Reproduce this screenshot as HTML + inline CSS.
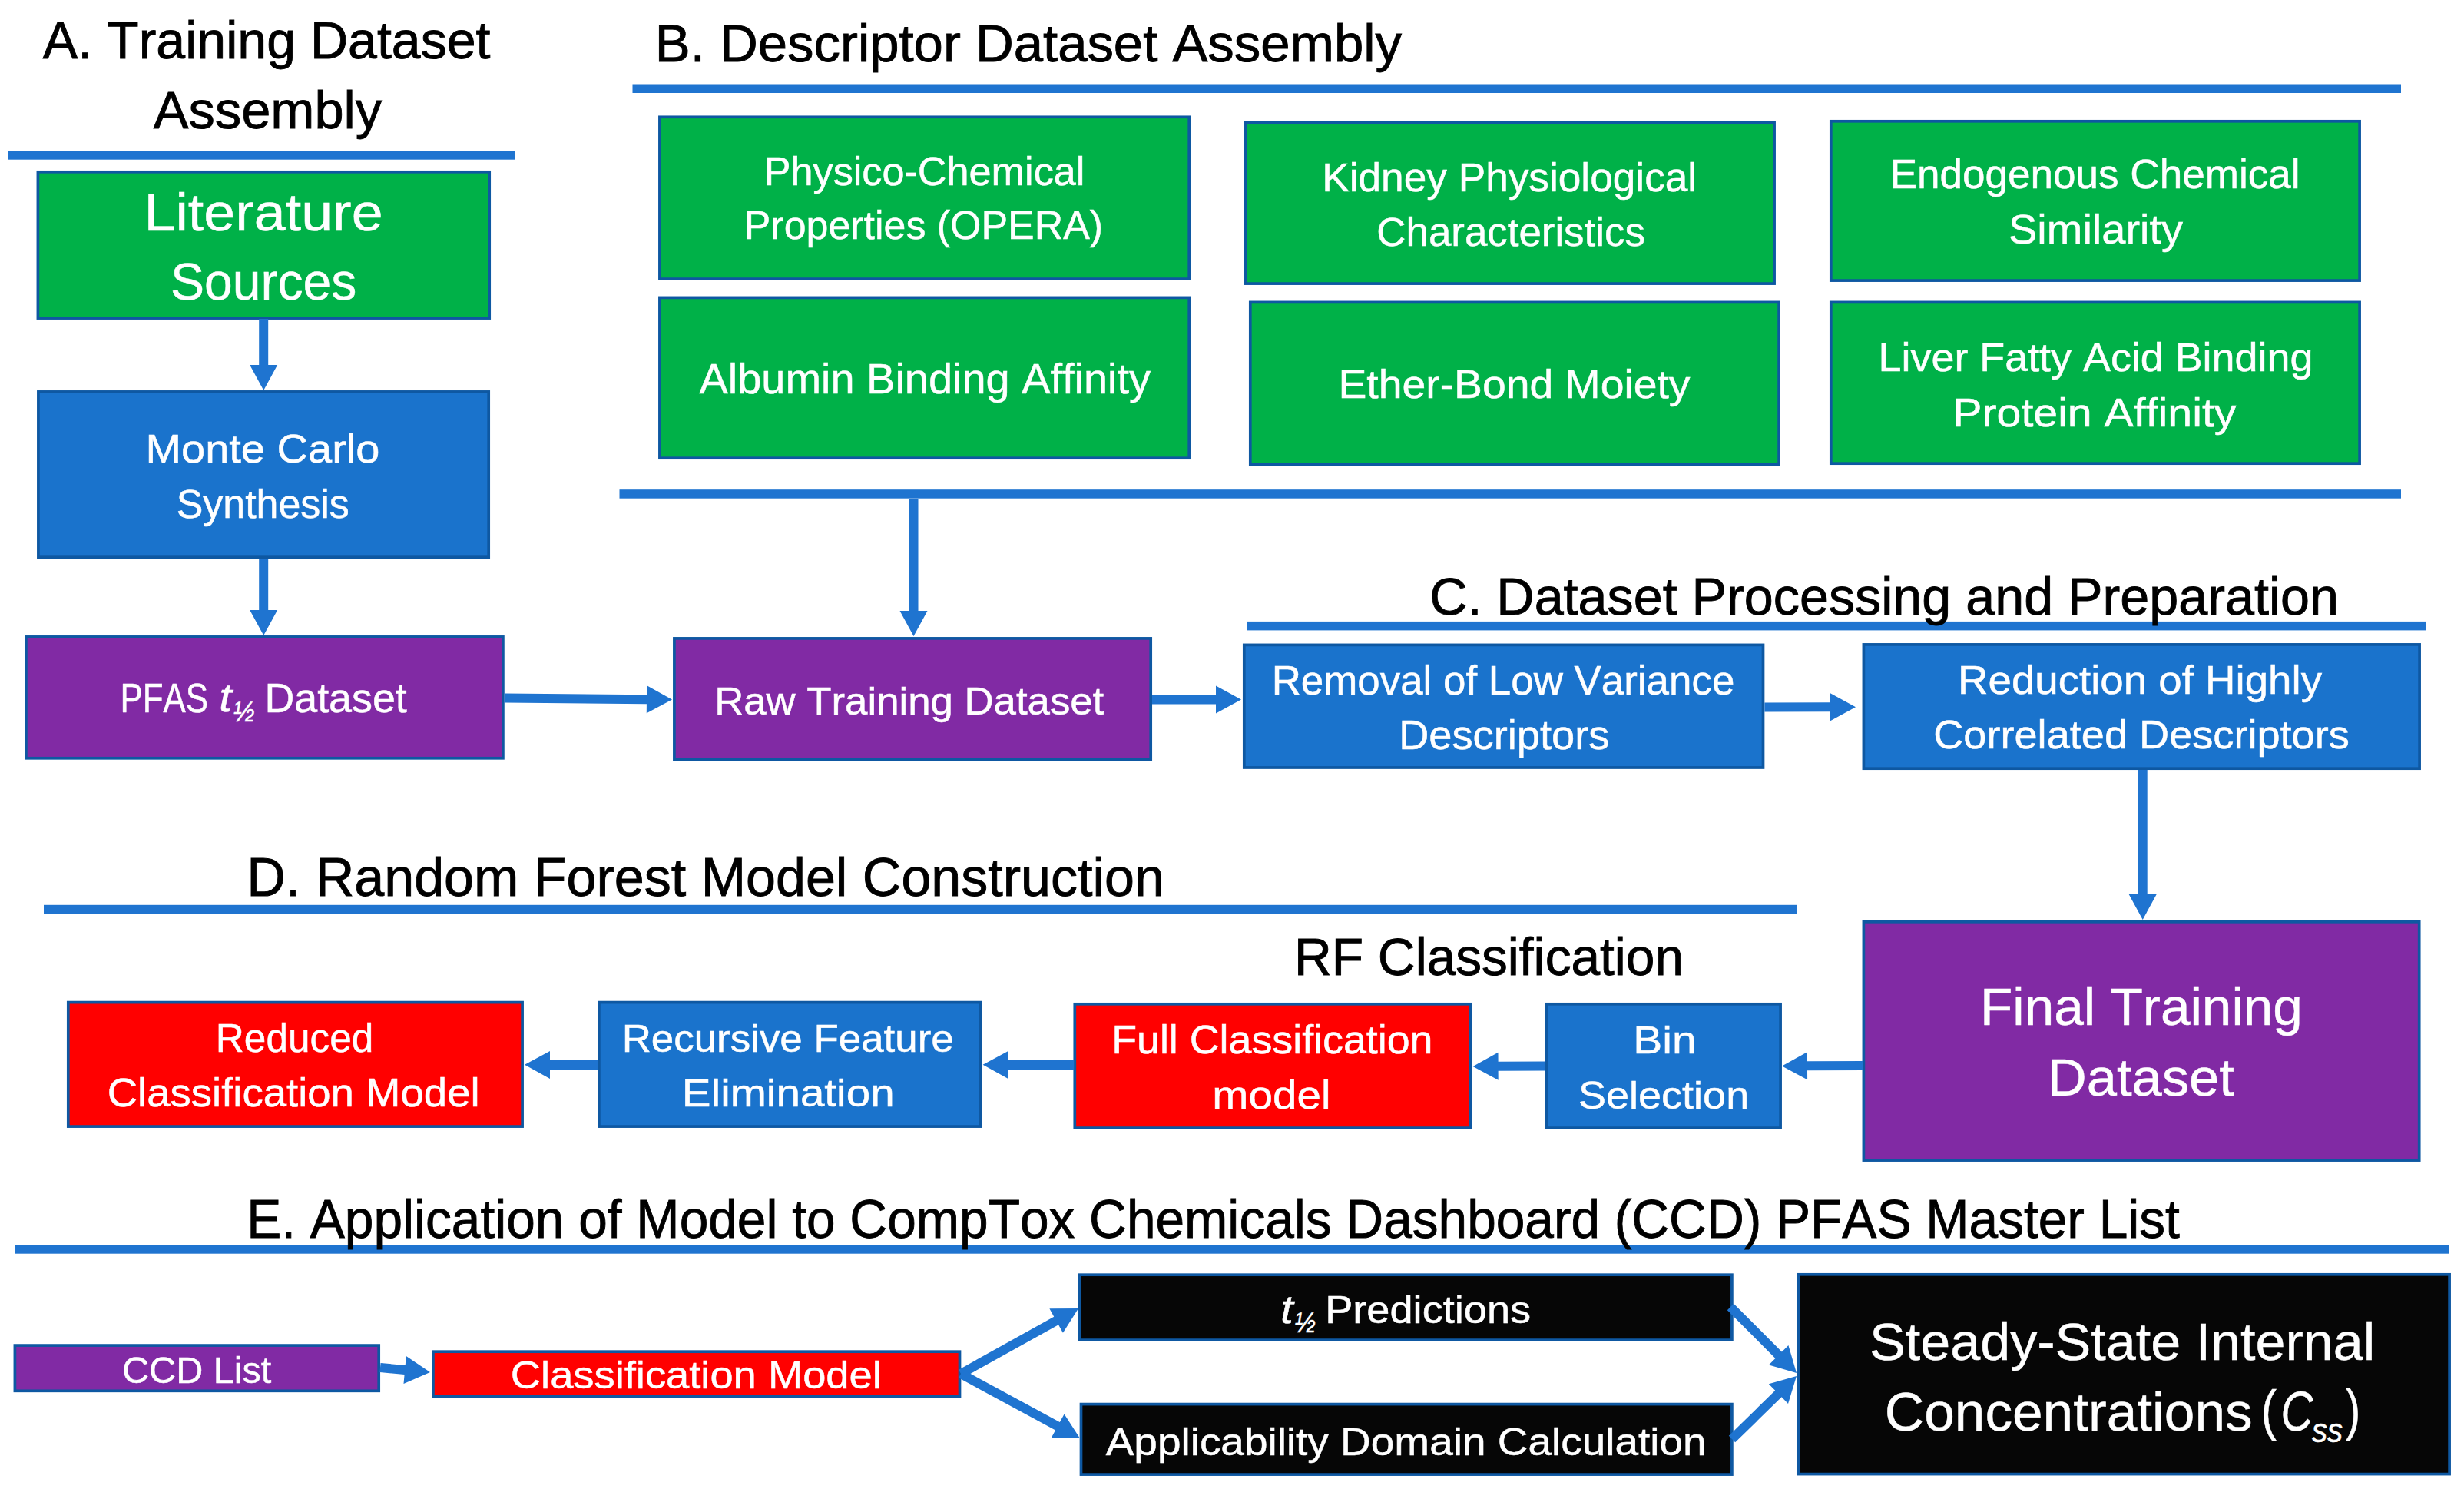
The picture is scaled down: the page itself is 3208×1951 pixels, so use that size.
<!DOCTYPE html>
<html><head><meta charset="utf-8"><title>PFAS workflow</title>
<style>
html,body{margin:0;padding:0;background:#fff;}
body{width:3208px;height:1951px;overflow:hidden;}
svg{display:block;}
text{font-family:"Liberation Sans",sans-serif;font-kerning:none;white-space:pre;}
</style></head><body>
<svg width="3208" height="1951" viewBox="0 0 3208 1951">
<rect width="3208" height="1951" fill="#fff"/>
<rect x="11.0" y="196.2" width="659.0" height="11.5" fill="#1f74d0"/>
<rect x="823.5" y="109.5" width="2302.5" height="11.5" fill="#1f74d0"/>
<rect x="806.5" y="637.2" width="2319.5" height="11.5" fill="#1f74d0"/>
<rect x="1623.0" y="808.9" width="1535.0" height="11.5" fill="#1f74d0"/>
<rect x="57.0" y="1177.8" width="2282.3" height="11.5" fill="#1f74d0"/>
<rect x="19.0" y="1620.2" width="3170.0" height="11.5" fill="#1f74d0"/>
<rect x="49.4" y="223.8" width="587.8" height="190.3" fill="#00b148" stroke="#0e58a2" stroke-width="3.7"/>
<rect x="49.9" y="509.9" width="586.3" height="215.3" fill="#1a73cc" stroke="#0e58a2" stroke-width="3.7"/>
<rect x="33.9" y="828.9" width="621.0" height="157.9" fill="#812aa4" stroke="#0e58a2" stroke-width="3.7"/>
<rect x="858.9" y="152.3" width="689.3" height="210.8" fill="#00b148" stroke="#0e58a2" stroke-width="3.7"/>
<rect x="858.9" y="387.4" width="689.3" height="208.8" fill="#00b148" stroke="#0e58a2" stroke-width="3.7"/>
<rect x="1621.8" y="159.8" width="688.3" height="209.3" fill="#00b148" stroke="#0e58a2" stroke-width="3.7"/>
<rect x="1627.8" y="393.4" width="688.3" height="210.8" fill="#00b148" stroke="#0e58a2" stroke-width="3.7"/>
<rect x="2383.8" y="157.8" width="688.3" height="207.3" fill="#00b148" stroke="#0e58a2" stroke-width="3.7"/>
<rect x="2383.8" y="393.4" width="688.3" height="209.8" fill="#00b148" stroke="#0e58a2" stroke-width="3.7"/>
<rect x="877.9" y="830.9" width="620.3" height="157.3" fill="#812aa4" stroke="#0e58a2" stroke-width="3.7"/>
<rect x="1619.8" y="839.4" width="675.7" height="159.6" fill="#1a73cc" stroke="#0e58a2" stroke-width="3.7"/>
<rect x="2426.4" y="838.9" width="723.7" height="161.3" fill="#1a73cc" stroke="#0e58a2" stroke-width="3.7"/>
<rect x="2426.4" y="1199.8" width="723.3" height="310.3" fill="#812aa4" stroke="#0e58a2" stroke-width="3.7"/>
<rect x="88.8" y="1304.6" width="591.3" height="161.5" fill="#ff0000" stroke="#0e58a2" stroke-width="3.7"/>
<rect x="779.9" y="1304.6" width="496.8" height="161.5" fill="#1a73cc" stroke="#0e58a2" stroke-width="3.7"/>
<rect x="1399.3" y="1306.8" width="515.1" height="161.3" fill="#ff0000" stroke="#0e58a2" stroke-width="3.7"/>
<rect x="2013.6" y="1306.8" width="304.5" height="161.3" fill="#1a73cc" stroke="#0e58a2" stroke-width="3.7"/>
<rect x="19.4" y="1751.1" width="473.8" height="59.2" fill="#812aa4" stroke="#0e58a2" stroke-width="3.7"/>
<rect x="563.9" y="1759.2" width="685.6" height="58.4" fill="#ff0000" stroke="#0e58a2" stroke-width="3.7"/>
<rect x="1405.8" y="1659.2" width="849.1" height="84.9" fill="#060606" stroke="#0e58a2" stroke-width="3.7"/>
<rect x="1407.5" y="1827.6" width="847.4" height="91.5" fill="#060606" stroke="#0e58a2" stroke-width="3.7"/>
<rect x="2341.8" y="1658.8" width="847.3" height="259.8" fill="#060606" stroke="#0e58a2" stroke-width="3.7"/>
<polygon points="337.2,415.0 337.2,475.0 325.2,475.0 343.2,508.0 361.2,475.0 349.2,475.0 349.2,415.0" fill="#1f74d0"/>
<polygon points="337.2,727.0 337.2,794.0 325.2,794.0 343.2,827.0 361.2,794.0 349.2,794.0 349.2,727.0" fill="#1f74d0"/>
<polygon points="1183.5,649.0 1183.5,795.0 1171.5,795.0 1189.5,828.0 1207.5,795.0 1195.5,795.0 1195.5,649.0" fill="#1f74d0"/>
<polygon points="2783.7,1002.0 2783.7,1164.0 2771.7,1164.0 2789.7,1197.0 2807.7,1164.0 2795.7,1164.0 2795.7,1002.0" fill="#1f74d0"/>
<polygon points="656.6,914.5 841.9,916.2 841.8,928.2 875.0,910.5 842.2,892.2 842.1,904.2 656.8,902.5" fill="#1f74d0"/>
<polygon points="1500.0,916.4 1583.0,916.4 1583.0,928.4 1616.0,910.4 1583.0,892.4 1583.0,904.4 1500.0,904.4" fill="#1f74d0"/>
<polygon points="2297.4,926.5 2383.0,926.3 2383.0,938.3 2416.0,920.2 2383.0,902.3 2383.0,914.3 2297.4,914.5" fill="#1f74d0"/>
<polygon points="2425.6,1381.0 2353.0,1381.3 2352.9,1369.3 2320.0,1387.5 2353.1,1405.3 2353.0,1393.3 2425.6,1393.0" fill="#1f74d0"/>
<polygon points="2011.8,1381.5 1950.6,1381.8 1950.5,1369.8 1917.6,1388.0 1950.7,1405.8 1950.6,1393.8 2011.8,1393.5" fill="#1f74d0"/>
<polygon points="1398.3,1380.0 1312.6,1379.9 1312.6,1367.9 1279.6,1385.8 1312.6,1403.9 1312.6,1391.9 1398.3,1392.0" fill="#1f74d0"/>
<polygon points="778.0,1380.0 716.0,1379.9 716.0,1367.9 683.0,1385.8 716.0,1403.9 716.0,1391.9 778.0,1392.0" fill="#1f74d0"/>
<polygon points="494.4,1786.0 526.6,1788.9 525.5,1800.9 560.0,1786.0 528.8,1765.0 527.7,1777.0 495.6,1774.0" fill="#1f74d0"/>
<polygon points="1253.9,1793.2 1378.1,1724.3 1383.9,1734.8 1404.0,1703.0 1366.4,1703.3 1372.2,1713.8 1248.1,1782.8" fill="#1f74d0"/>
<polygon points="1248.1,1793.3 1374.1,1861.6 1368.4,1872.1 1406.0,1872.0 1385.6,1840.5 1379.8,1851.0 1253.9,1782.7" fill="#1f74d0"/>
<polygon points="2248.8,1705.2 2311.4,1767.9 2302.9,1776.4 2339.0,1787.0 2328.4,1750.9 2319.9,1759.4 2257.2,1696.8" fill="#1f74d0"/>
<polygon points="2259.2,1877.3 2319.6,1818.3 2328.0,1826.9 2339.0,1791.0 2302.8,1801.2 2311.2,1809.8 2250.8,1868.7" fill="#1f74d0"/>
<text transform="translate(55.87,76.00) scale(0.9853,1)" font-size="69.09" fill="#000" stroke="#000" stroke-width="0.9" >A. Training Dataset</text>
<text transform="translate(199.87,167.00) scale(0.9927,1)" font-size="69.09" fill="#000" stroke="#000" stroke-width="0.9" >Assembly</text>
<text transform="translate(852.85,80.00) scale(1.0178,1)" font-size="67.68" fill="#000" stroke="#000" stroke-width="0.9" >B. Descriptor Dataset Assembly</text>
<text transform="translate(1861.13,800.00) scale(0.9882,1)" font-size="69.09" fill="#000" stroke="#000" stroke-width="0.9" >C. Dataset Processing and Preparation</text>
<text transform="translate(321.26,1165.50) scale(0.9934,1)" font-size="70.50" fill="#000" stroke="#000" stroke-width="0.9" >D. Random Forest Model Construction</text>
<text transform="translate(1684.95,1269.00) scale(0.9989,1)" font-size="67.68" fill="#000" stroke="#000" stroke-width="0.9" >RF Classification</text>
<text transform="translate(321.15,1611.30) scale(0.9590,1)" font-size="70.50" fill="#000" stroke="#000" stroke-width="0.9" >E. Application of Model to CompTox Chemicals Dashboard (CCD) PFAS Master List</text>
<text transform="translate(187.46,300.00) scale(1.0885,1)" font-size="67.68" fill="#fff" stroke="#fff" stroke-width="0.5" >Literature</text>
<text transform="translate(222.00,390.00) scale(0.9763,1)" font-size="67.68" fill="#fff" stroke="#fff" stroke-width="0.5" >Sources</text>
<text transform="translate(189.41,602.00) scale(1.0732,1)" font-size="52.17" fill="#fff" stroke="#fff" stroke-width="0.5" >Monte Carlo</text>
<text transform="translate(229.64,674.00) scale(0.9959,1)" font-size="52.17" fill="#fff" stroke="#fff" stroke-width="0.5" >Synthesis</text>
<text transform="translate(156.40,926.60) scale(0.8300,1)" font-size="52.87" fill="#fff" stroke="#fff" stroke-width="0.5" >PFAS</text>
<text transform="translate(285.28,926.49) scale(0.5990,0.5181)" font-size="100.00" fill="#fff" stroke="#fff" stroke-width="0.965" font-style="italic">t</text>
<text transform="translate(303.94,939.00) scale(0.3298,0.3634)" font-size="100.00" fill="#fff" stroke="#fff" stroke-width="1.516" font-style="italic">½</text>
<text transform="translate(344.39,926.60) scale(1.0175,1)" font-size="52.87" fill="#fff" stroke="#fff" stroke-width="0.5" >Dataset</text>
<text transform="translate(994.72,240.60) scale(1.0117,1)" font-size="51.60" fill="#fff" stroke="#fff" stroke-width="0.5" >Physico-Chemical</text>
<text transform="translate(968.74,311.00) scale(1.0063,1)" font-size="51.60" fill="#fff" stroke="#fff" stroke-width="0.5" >Properties (OPERA)</text>
<text transform="translate(910.49,511.60) scale(1.0173,1)" font-size="54.99" fill="#fff" stroke="#fff" stroke-width="0.5" >Albumin Binding Affinity</text>
<text transform="translate(1721.24,249.00) scale(1.0340,1)" font-size="51.46" fill="#fff" stroke="#fff" stroke-width="0.5" >Kidney Physiological</text>
<text transform="translate(1792.32,320.00) scale(1.0273,1)" font-size="51.46" fill="#fff" stroke="#fff" stroke-width="0.5" >Characteristics</text>
<text transform="translate(1742.46,518.00) scale(1.0604,1)" font-size="52.17" fill="#fff" stroke="#fff" stroke-width="0.5" >Ether-Bond Moiety</text>
<text transform="translate(2460.65,245.00) scale(0.9904,1)" font-size="53.58" fill="#fff" stroke="#fff" stroke-width="0.5" >Endogenous Chemical</text>
<text transform="translate(2614.96,316.50) scale(1.0454,1)" font-size="53.58" fill="#fff" stroke="#fff" stroke-width="0.5" >Similarity</text>
<text transform="translate(2445.58,483.40) scale(1.0383,1)" font-size="51.88" fill="#fff" stroke="#fff" stroke-width="0.5" >Liver Fatty Acid Binding</text>
<text transform="translate(2542.30,555.00) scale(1.1040,1)" font-size="51.88" fill="#fff" stroke="#fff" stroke-width="0.5" >Protein Affinity</text>
<text transform="translate(930.17,930.00) scale(1.0393,1)" font-size="50.76" fill="#fff" stroke="#fff" stroke-width="0.5" >Raw Training Dataset</text>
<text transform="translate(1655.66,904.40) scale(0.9770,1)" font-size="54.14" fill="#fff" stroke="#fff" stroke-width="0.5" >Removal of Low Variance</text>
<text transform="translate(1821.15,975.00) scale(1.0020,1)" font-size="54.14" fill="#fff" stroke="#fff" stroke-width="0.5" >Descriptors</text>
<text transform="translate(2549.02,903.00) scale(1.0683,1)" font-size="51.18" fill="#fff" stroke="#fff" stroke-width="0.5" >Reduction of Highly</text>
<text transform="translate(2517.25,974.00) scale(1.0581,1)" font-size="51.18" fill="#fff" stroke="#fff" stroke-width="0.5" >Correlated Descriptors</text>
<text transform="translate(2577.91,1334.00) scale(1.0037,1)" font-size="69.09" fill="#fff" stroke="#fff" stroke-width="0.5" >Final Training</text>
<text transform="translate(2665.71,1426.00) scale(1.0211,1)" font-size="69.09" fill="#fff" stroke="#fff" stroke-width="0.5" >Dataset</text>
<text transform="translate(280.79,1368.60) scale(0.9950,1)" font-size="51.60" fill="#fff" stroke="#fff" stroke-width="0.5" >Reduced</text>
<text transform="translate(139.73,1439.80) scale(1.0567,1)" font-size="51.60" fill="#fff" stroke="#fff" stroke-width="0.5" >Classification Model</text>
<text transform="translate(809.66,1369.30) scale(1.0599,1)" font-size="49.91" fill="#fff" stroke="#fff" stroke-width="0.5" >Recursive Feature</text>
<text transform="translate(887.86,1439.80) scale(1.1339,1)" font-size="49.91" fill="#fff" stroke="#fff" stroke-width="0.5" >Elimination</text>
<text transform="translate(1447.19,1371.00) scale(1.0306,1)" font-size="52.17" fill="#fff" stroke="#fff" stroke-width="0.5" >Full Classification</text>
<text transform="translate(1578.24,1442.70) scale(1.0856,1)" font-size="52.17" fill="#fff" stroke="#fff" stroke-width="0.5" >model</text>
<text transform="translate(2126.32,1371.00) scale(1.1550,1)" font-size="49.35" fill="#fff" stroke="#fff" stroke-width="0.5" >Bin</text>
<text transform="translate(2054.95,1442.70) scale(1.0949,1)" font-size="49.35" fill="#fff" stroke="#fff" stroke-width="0.5" >Selection</text>
<text transform="translate(159.03,1800.00) scale(0.9986,1)" font-size="48.64" fill="#fff" stroke="#fff" stroke-width="0.5" >CCD List</text>
<text transform="translate(664.84,1807.30) scale(1.0793,1)" font-size="50.33" fill="#fff" stroke="#fff" stroke-width="0.5" >Classification Model</text>
<text transform="translate(1667.31,1722.00) scale(0.5916,0.5105)" font-size="100.00" fill="#fff" stroke="#fff" stroke-width="0.979" font-style="italic">t</text>
<text transform="translate(1685.75,1734.30) scale(0.3260,0.3605)" font-size="100.00" fill="#fff" stroke="#fff" stroke-width="1.534" font-style="italic">½</text>
<text transform="translate(1725.16,1721.90) scale(1.0704,1)" font-size="50.62" fill="#fff" stroke="#fff" stroke-width="0.5" >Predictions</text>
<text transform="translate(1439.69,1893.90) scale(1.0856,1)" font-size="50.62" fill="#fff" stroke="#fff" stroke-width="0.5" >Applicability Domain Calculation</text>
<text transform="translate(2434.12,1769.50) scale(1.0122,1)" font-size="69.23" fill="#fff" stroke="#fff" stroke-width="0.5" >Steady-State Internal</text>
<text transform="translate(2453.78,1861.70) scale(1.0163,1)" font-size="70.07" fill="#fff" stroke="#fff" stroke-width="0.5" >Concentrations</text>
<text transform="translate(2943.76,1860.00) scale(0.6035,0.7245)" font-size="100.00" fill="#fff" stroke="#fff" stroke-width="0.829" >(</text>
<text transform="translate(2969.50,1862.00) scale(0.8067,1)" font-size="71.91" fill="#fff" stroke="#fff" stroke-width="0.5" font-style="italic">C</text>
<text transform="translate(3009.90,1876.56) scale(0.4043,0.4484)" font-size="100.00" fill="#fff" stroke="#fff" stroke-width="1.237" font-style="italic">ss</text>
<text transform="translate(3054.17,1860.00) scale(0.5657,0.7245)" font-size="100.00" fill="#fff" stroke="#fff" stroke-width="0.884" >)</text>
</svg>
</body></html>
